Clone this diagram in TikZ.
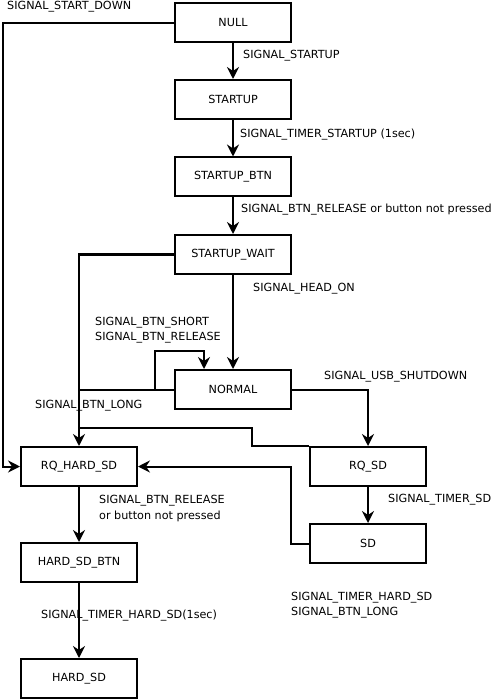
\documentclass[tikz,border=0pt]{standalone}
\usepackage{fontspec}
\setmainfont{DejaVu Sans}
\usetikzlibrary{arrows.meta}
\begin{document}
\begin{tikzpicture}[x=1pt,y=-1pt,
  state/.style={draw,line width=2pt,minimum width=116pt,minimum height=39pt,inner sep=0pt,font=\fontsize{11.2}{15.5}\selectfont},
  conn/.style={line width=2pt},
  arr/.style={conn,-{Stealth[length=12pt,width=12pt,inset=4pt]}},
  lbl/.style={anchor=west,inner sep=0pt,align=left,font=\fontsize{11.2}{15.5}\selectfont}]
\useasboundingbox (0,0) rectangle (493,700);
\node[state] (null) at (233,23) {NULL};
\node[state] (startup) at (233,99.5) {STARTUP};
\node[state] (sbtn) at (233,177) {STARTUP\_BTN};
\node[state] (swait) at (233,254.5) {STARTUP\_WAIT};
\node[state] (normal) at (233,389.5) {NORMAL};
\node[state] (rqh) at (79,466.5) {RQ\_HARD\_SD};
\node[state] (rqs) at (368,466.5) {RQ\_SD};
\node[state] (sd) at (368,543.5) {SD};
\node[state] (hbtn) at (79,562.5) {HARD\_SD\_BTN};
\node[state] (hard) at (79,678.5) {HARD\_SD};
\coordinate (lft) at (2.5,23);
\coordinate (loopL) at (155,351);
\coordinate (loopT) at (204,351);
\coordinate (jn) at (252,428);
\coordinate (sdL) at (291,543.5);
% connectors
\draw[arr] (null.west) -- (lft) |- (rqh.west);
\draw[arr] (null) -- (startup);
\draw[arr] (startup) -- (sbtn);
\draw[arr] (sbtn) -- (swait);
\draw[arr] (swait) -- (normal);
\draw[arr] (swait.west) -| (rqh.north);
\draw[arr] (normal.west -| loopL) |- (loopT) -- (loopT |- normal.north);
\draw[conn] (normal.west) -- (normal.west -| rqh.north);
\draw[arr] (normal.east) -| (rqs.north);
\draw[conn] (rqs.north west) -| (jn) -- (jn -| rqh.north);
\draw[arr] (sd.west) -- (sdL) |- (rqh.east);
\draw[arr] (rqs) -- (sd);
\draw[arr] (rqh) -- (hbtn);
\draw[arr] (hbtn) -- (hard);
% labels
\node[lbl] (l1) at (7,7) {SIGNAL\_START\_DOWN};
\node[lbl] (l2) at (243,56) {SIGNAL\_STARTUP};
\node[lbl] (l3) at (240,135) {SIGNAL\_TIMER\_STARTUP (1sec)};
\node[lbl] (l4) at (241,210) {SIGNAL\_BTN\_RELEASE or button not pressed};
\node[lbl] (l5) at (253,289) {SIGNAL\_HEAD\_ON};
\node[lbl] (l6) at (95,330) {SIGNAL\_BTN\_SHORT\\SIGNAL\_BTN\_RELEASE};
\node[lbl] (l7) at (324,377) {SIGNAL\_USB\_SHUTDOWN};
\node[lbl] (l8) at (35,406) {SIGNAL\_BTN\_LONG};
\node[lbl] (l9) at (388,500) {SIGNAL\_TIMER\_SD};
\node[lbl] (l10) at (99,508.5) {SIGNAL\_BTN\_RELEASE\\or button not pressed};
\node[lbl] (l11) at (41,616) {SIGNAL\_TIMER\_HARD\_SD(1sec)};
\node[lbl] (l12) at (291,605) {SIGNAL\_TIMER\_HARD\_SD\\SIGNAL\_BTN\_LONG};
\end{tikzpicture}
\end{document}
